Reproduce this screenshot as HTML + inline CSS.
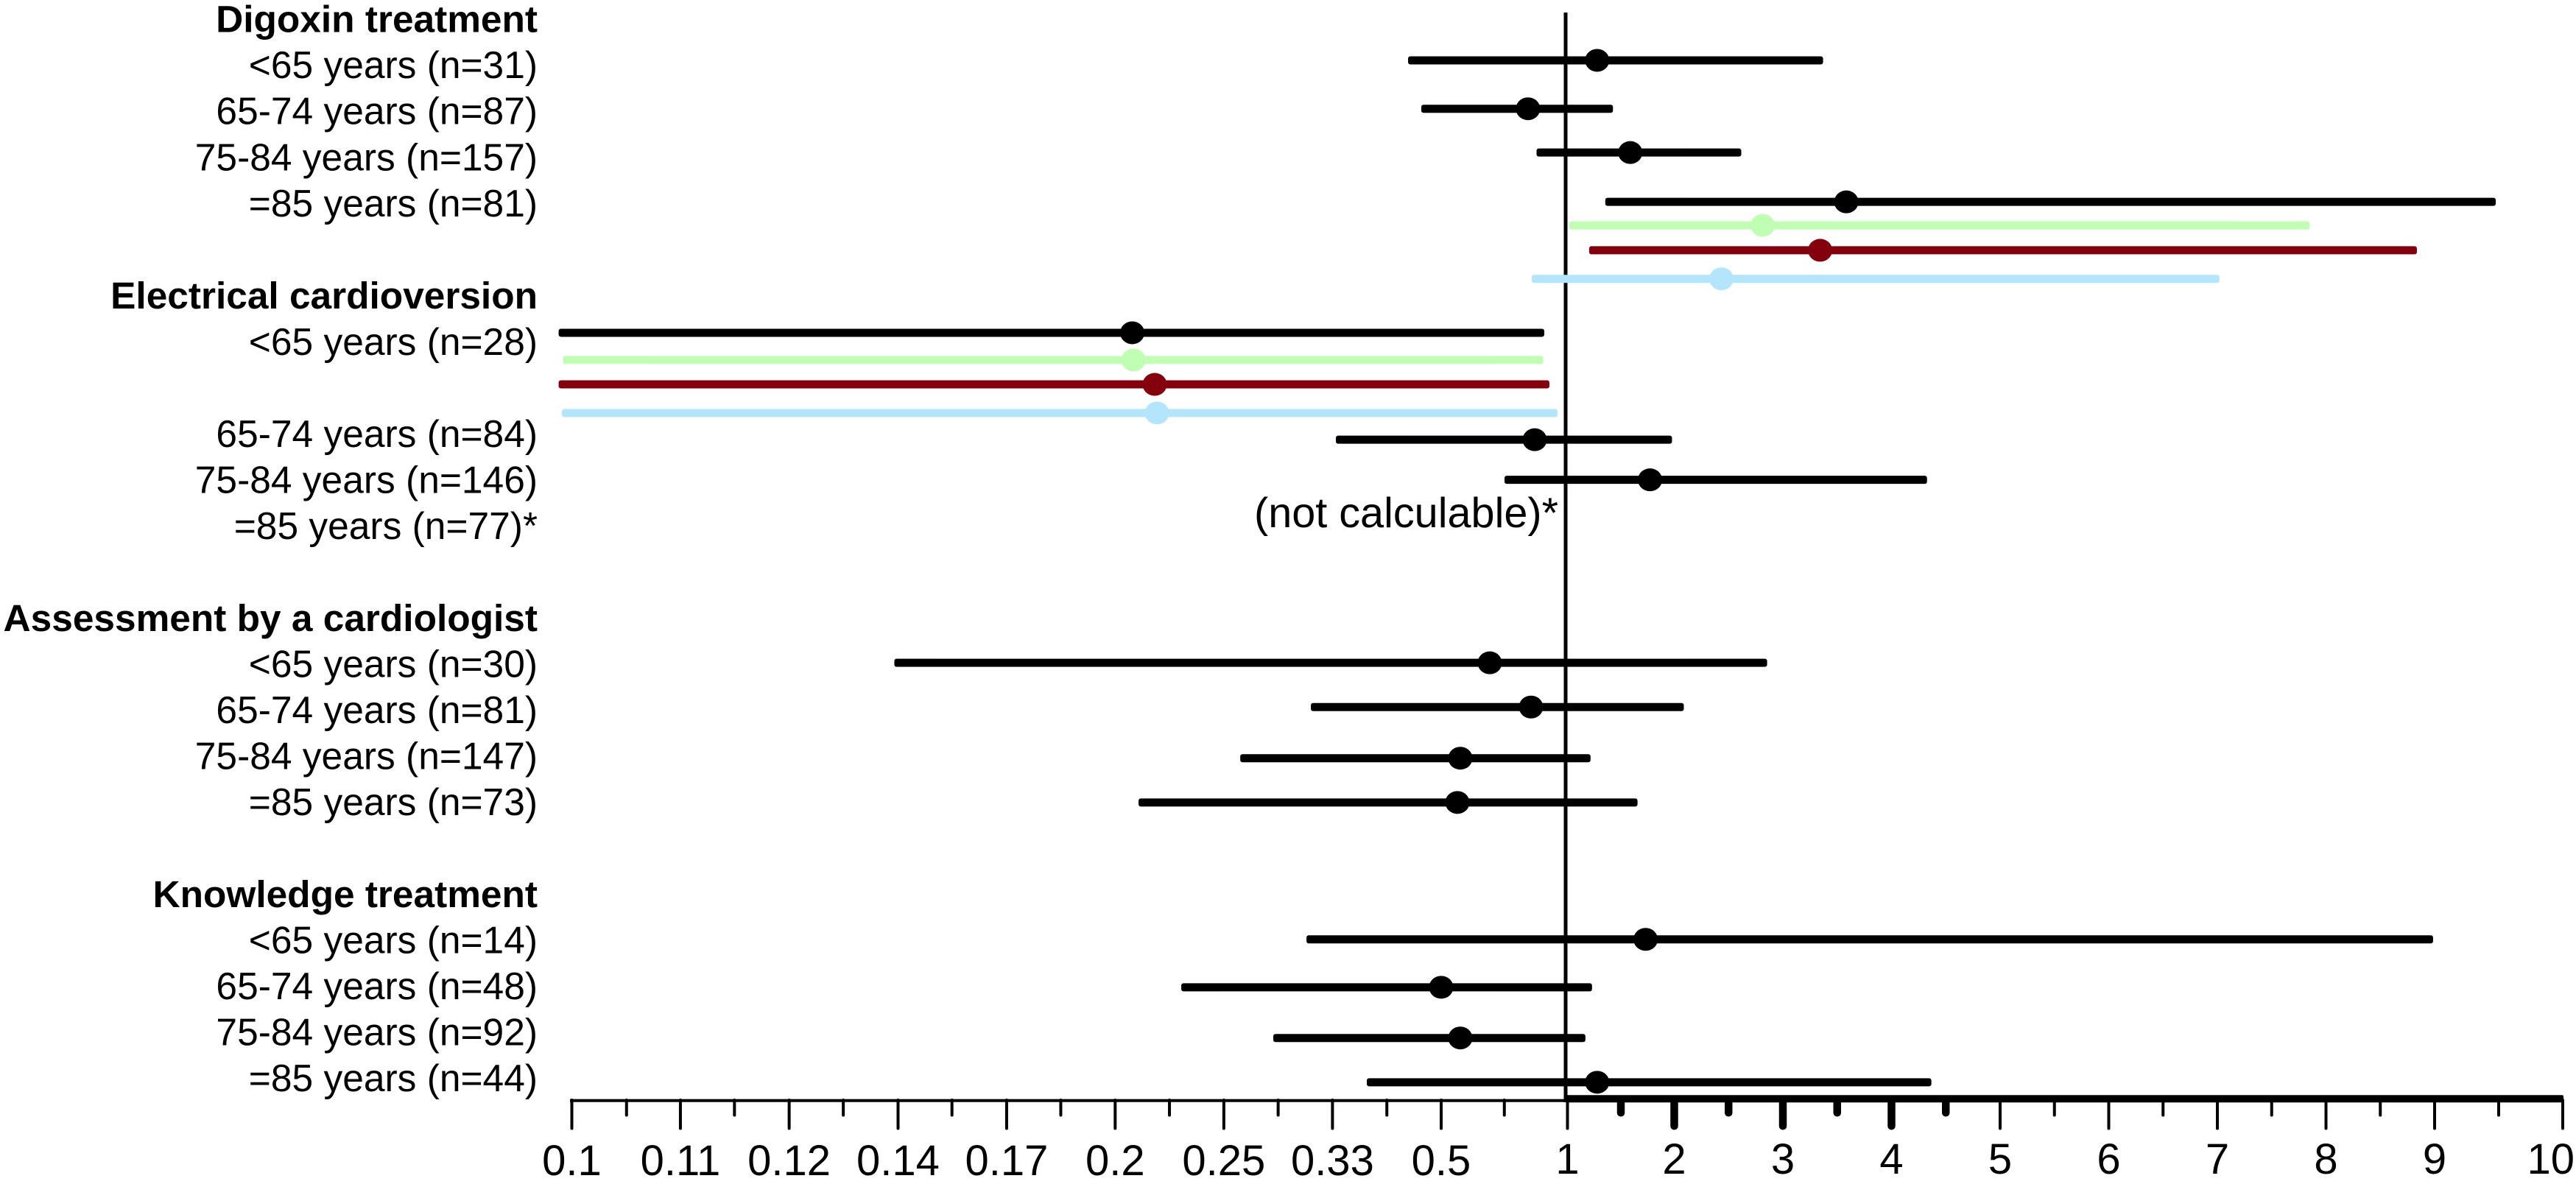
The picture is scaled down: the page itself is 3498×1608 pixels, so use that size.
<!DOCTYPE html>
<html lang="en">
<head>
<meta charset="utf-8">
<title>Forest plot of odds ratios by age group</title>
<style>
html,body{margin:0;padding:0;background:#fff;width:3498px;height:1608px;overflow:hidden}
svg{display:block}
text{font-family:"Liberation Sans",Arial,sans-serif;fill:#000}
.row{font-size:51.5px;text-anchor:end}
.head{font-size:51.4px;font-weight:bold;text-anchor:end}
.note{font-size:57.6px;text-anchor:end}
.tick{font-size:58px;text-anchor:middle}
</style>
</head>
<body>
<svg id="chart" xmlns="http://www.w3.org/2000/svg" width="3498" height="1608" viewBox="0 0 3498 1608">
  <rect x="0" y="0" width="3498" height="1608" fill="#fff"/>
  <g>
    <text class="head" x="730" y="43.5">Digoxin treatment</text>
    <text class="row" x="730" y="106">&lt;65 years (n=31)</text>
    <text class="row" x="730" y="168.6">65-74 years (n=87)</text>
    <text class="row" x="730" y="231.5">75-84 years (n=157)</text>
    <text class="row" x="730" y="294">=85 years (n=81)</text>
    <text class="head" x="730" y="419">Electrical cardioversion</text>
    <text class="row" x="730" y="482">&lt;65 years (n=28)</text>
    <text class="row" x="730" y="607">65-74 years (n=84)</text>
    <text class="row" x="730" y="669.5">75-84 years (n=146)</text>
    <text class="row" x="730" y="732">=85 years (n=77)*</text>
    <text class="head" x="730" y="857">Assessment by a cardiologist</text>
    <text class="row" x="730" y="919.5">&lt;65 years (n=30)</text>
    <text class="row" x="730" y="982">65-74 years (n=81)</text>
    <text class="row" x="730" y="1044.5">75-84 years (n=147)</text>
    <text class="row" x="730" y="1107">=85 years (n=73)</text>
    <text class="head" x="730" y="1232">Knowledge treatment</text>
    <text class="row" x="730" y="1294.5">&lt;65 years (n=14)</text>
    <text class="row" x="730" y="1357">65-74 years (n=48)</text>
    <text class="row" x="730" y="1419.5">75-84 years (n=92)</text>
    <text class="row" x="730" y="1482">=85 years (n=44)</text>
  </g>
  <text class="note" x="2116" y="716">(not calculable)*</text>
  <g id="axis"></g>
  <g id="marks"></g>
</svg>
<script>
// Axis data
const tickValues = [0.1, 0.1111, 0.125, 0.1429, 0.1667, 0.2, 0.25, 0.3333, 0.5, 1, 2, 3, 4, 5, 6, 7, 8, 9, 10];
const tickLabels = ["0.1", "0.11", "0.12", "0.14", "0.17", "0.2", "0.25", "0.33", "0.5", "1", "2", "3", "4", "5", "6", "7", "8", "9", "10"];
const minorTickValues = [0.1053, 0.1176, 0.1333, 0.1538, 0.1818, 0.2222, 0.2857, 0.4, 0.6667, 1.5, 2.5, 3.5, 4.5, 5.5, 6.5, 7.5, 8.5, 9.5];

// Series data: row level (in row units), lower CI, point estimate, upper CI, colour key
const rowLevels = [0.99, 2.04, 2.99, 4.06, 4.57, 5.11, 5.73, 6.90, 7.49, 8.02, 8.64, 9.22, 10.09, 14.06, 15.02, 16.13, 17.09, 20.06, 21.10, 22.20, 23.16];
const lowerCI = [0.4339, 0.4581, 0.8033, 1.354, 1.017, 1.203, 0.7796, 0.0988, 0.0992, 0.0988, 0.0991, 0.3368, 0.6673, 0.1422, 0.3126, 0.2598, 0.2090, 0.3087, 0.2277, 0.2821, 0.3725];
const estimates = [1.278, 0.762, 1.588, 3.584, 2.814, 3.343, 2.434, 0.2065, 0.2070, 0.2157, 0.2167, 0.7940, 1.773, 0.6191, 0.7760, 0.5410, 0.5343, 1.732, 0.5, 0.5410, 1.278];
const upperCI = [3.370, 1.426, 2.617, 9.477, 7.850, 8.837, 7.019, 0.8448, 0.8386, 0.8750, 0.9270, 1.979, 4.327, 2.855, 2.088, 1.216, 1.656, 8.986, 1.230, 1.168, 4.367];
const seriesKeys = ["black", "black", "black", "black", "green", "red", "blue", "black", "green", "red", "blue", "black", "black", "black", "black", "black", "black", "black", "black", "black", "black"];

const palette = { black: "#000000", green: "#c0ffb3", red: "#85000d", blue: "#b3e5fc" };

const NS = "http://www.w3.org/2000/svg";
const axisGroup = document.getElementById("axis");
const marksGroup = document.getElementById("marks");

// Reciprocal scale below 1, linear above 1, with the hand-drawn axis spacing.
function transform(v) { return v < 1 ? 2 - 1 / v : v; }
const domainKnots = [-8, 0, 1, 2, 9, 10];
const rangeKnots = [776.5, 1957, 2128.5, 2273.5, 3306, 3480];
function xScale(v) {
  const u = transform(v);
  let i = 0;
  while (i < domainKnots.length - 2 && u > domainKnots[i + 1]) i++;
  const t = (u - domainKnots[i]) / (domainKnots[i + 1] - domainKnots[i]);
  return rangeKnots[i] + t * (rangeKnots[i + 1] - rangeKnots[i]);
}
function yScale(level) { return 20 + 62.6 * level; }

function make(tag, attrs, parent) {
  const el = document.createElementNS(NS, tag);
  for (const k in attrs) el.setAttribute(k, attrs[k]);
  parent.appendChild(el);
  return el;
}

// Reference line
const refLine = make("line", { x1: xScale(1) - 2.5, x2: xScale(1) - 2.5, y1: 17, y2: 1497, stroke: "#000", "stroke-width": 5 }, axisGroup);



// Axis lines
const axisLeft = make("rect", { x: 774, y: 1492.7, width: xScale(1) - 774, height: 4, fill: "#000" }, axisGroup);


const axisRight = make("rect", { x: xScale(1) - 3, y: 1487.3, width: xScale(10) - xScale(1) + 4, height: 10, rx: 2, fill: "#000" }, axisGroup);



// Ticks
function tickWidth(v) { return v > 1 && v <= 4.5 ? 10.5 : 4; }
tickValues.forEach(function (v, i) {
  const x = xScale(v);
  const w = tickWidth(v);
  const t = make("rect", { x: x - w / 2, y: 1492, width: w, height: 42.5, rx: w / 2, fill: "#000" }, axisGroup);
  
  
  const lbl = make("text", { class: "tick", x: x, y: v < 1 ? 1596 : 1594 }, axisGroup);
  lbl.textContent = tickLabels[i];
  
  
  const half = lbl.getComputedTextLength() / 2;
  lbl.setAttribute("x", Math.min(x, 3496 - half));
});
minorTickValues.forEach(function (v) {
  const x = xScale(v);
  const w = tickWidth(v);
  const t = make("rect", { x: x - w / 2, y: 1492, width: w, height: 24.5, rx: w / 2, fill: "#000" }, axisGroup);
  
  
});

// Confidence intervals and point estimates
rowLevels.forEach(function (level, i) {
  const y = yScale(level);
  const c = palette[seriesKeys[i]];
  const x1 = xScale(lowerCI[i]);
  const x2 = xScale(upperCI[i]);
  const bar = make("rect", { x: x1, y: y - 5.5, width: x2 - x1, height: 11, rx: 3, fill: c }, marksGroup);
  
  
  const dot = make("ellipse", { cx: xScale(estimates[i]), cy: y, rx: 16.5, ry: 15.5, fill: c }, marksGroup);
  
  
});
</script>
</body>
</html>
